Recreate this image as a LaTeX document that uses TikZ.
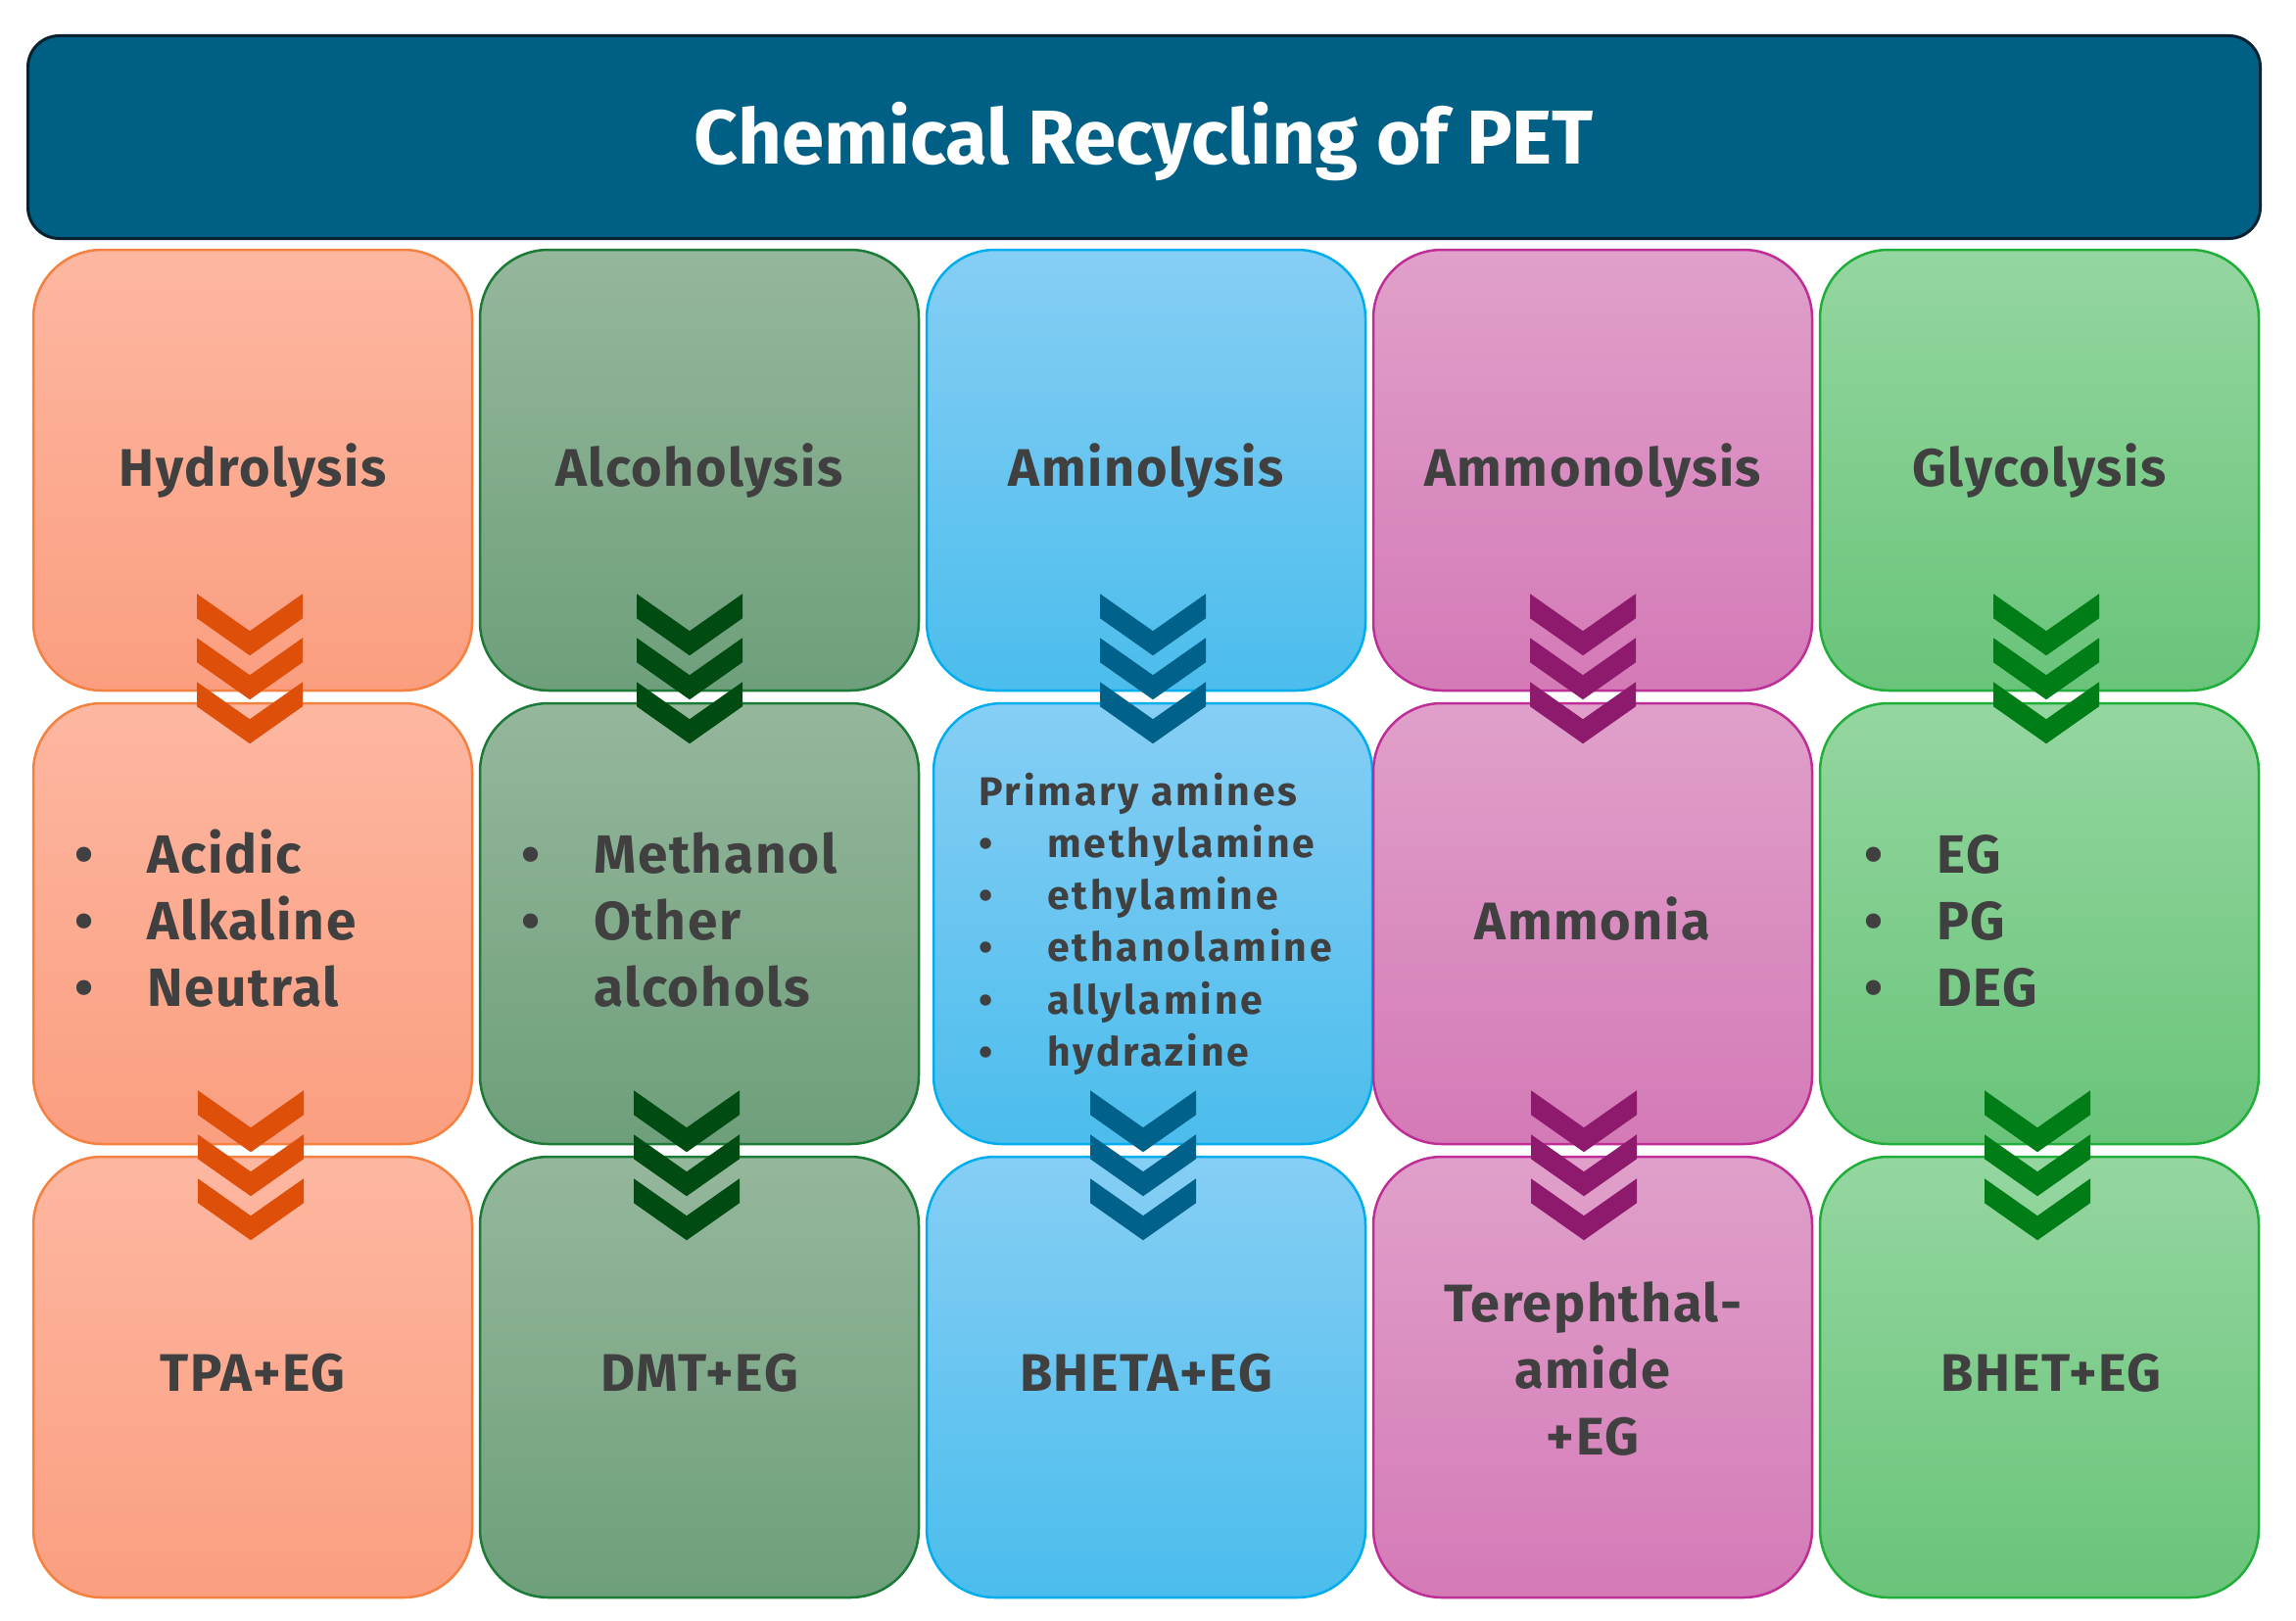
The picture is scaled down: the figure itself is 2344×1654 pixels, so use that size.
\documentclass[tikz,border=0pt]{standalone}
\usepackage{fontspec}
\setmainfont{Fira Sans}
\usetikzlibrary{calc,positioning}

\definecolor{titlefill}{HTML}{005F84}
\definecolor{titleline}{HTML}{0A2230}
\definecolor{txtgrey}{HTML}{404040}
\definecolor{ortop}{HTML}{FDB7A1}
\definecolor{orbot}{HTML}{FB9E80}
\definecolor{orline}{HTML}{F4813F}
\definecolor{orchev}{HTML}{DE500A}
\definecolor{sgtop}{HTML}{95B79C}
\definecolor{sgbot}{HTML}{6E9F7B}
\definecolor{sgline}{HTML}{1B7A35}
\definecolor{sgchev}{HTML}{004B12}
\definecolor{bltop}{HTML}{86CEF5}
\definecolor{blbot}{HTML}{4BBDEC}
\definecolor{blline}{HTML}{00AEEF}
\definecolor{blchev}{HTML}{00628A}
\definecolor{pktop}{HTML}{E0A0CA}
\definecolor{pkbot}{HTML}{D47AB7}
\definecolor{pkline}{HTML}{BF2E97}
\definecolor{pkchev}{HTML}{8E1A6E}
\definecolor{grtop}{HTML}{95D6A0}
\definecolor{grbot}{HTML}{69C47A}
\definecolor{grline}{HTML}{1FAE3A}
\definecolor{grchev}{HTML}{007D16}

\newcommand\itm[2][74pt]{\makebox[#1][l]{\textbullet}#2}

\tikzset{
  titlebox/.style={draw=titleline, fill=titlefill, line width=3pt, rounded corners=32pt,
    minimum width=2279pt, minimum height=207pt, text=white, text height=54pt, text depth=0pt,
    font=\fontsize{78}{90}\selectfont\bfseries},
  box/.style={draw=#1line, top color=#1top, bottom color=#1bot, line width=2.5pt,
    rounded corners=70pt, minimum width=448pt, minimum height=450pt, inner sep=0pt,
    text=txtgrey, font=\fontsize{54}{68}\selectfont\bfseries\addfontfeatures{LetterSpace=3}},
  lbl/.style={text depth=10pt},
  listtext/.style={inner sep=0pt, anchor=base west, text=txtgrey,
    font=\fontsize{55}{68}\selectfont\bfseries\addfontfeatures{LetterSpace=3}},
  pics/chevs/.style={code={
    \foreach \k in {0,45,90}
      \fill[#1] (-54,\k) -- (0,\k+38) -- (54,\k) -- (54,\k+25) -- (0,\k+63) -- (-54,\k+25) -- cycle;
  }}
}

\begin{document}
\begin{tikzpicture}[x=1pt,y=-1pt]
    \useasboundingbox (0,0) rectangle (2344,1654);
    \node[titlebox] (title) at (1168,140) {Chemical Recycling of PET};

    % processes
    \node[box=or, lbl] (hydro) at (258,480) {Hydrolysis};
    \node[box=sg, lbl] (alco) at (714,480) {Alcoholysis};
    \node[box=bl, lbl] (amino) at (1170,480) {Aminolysis};
    \node[box=pk, lbl] (ammono) at (1626,480) {Ammonolysis};
    \node[box=gr, lbl] (glyco) at (2082,480) {Glycolysis};

    % agents
    \node[box=or] (acid) at (258,943) {};
    \node[box=sg] (meth) at (714,943) {};
    \node[box=bl] (amine) at (1177,943) {};
    \node[box=pk, lbl] (ammonia) at (1626,943) {Ammonia};
    \node[box=gr] (glycol) at (2082,943) {};

    \node[listtext] (acidlist) at (76,891) {\begin{tabular}[t]{@{}l@{}}
        \itm{Acidic}\\ \itm{Alkaline}\\ \itm{Neutral}\end{tabular}};
    \node[listtext] (methlist) at (532,891) {\begin{tabular}[t]{@{}l@{}}
        \itm{Methanol}\\ \itm{Other}\\ \hspace*{74pt}alcohols\end{tabular}};
    \node[listtext, font=\fontsize{41}{53.3}\selectfont\bfseries\addfontfeatures{LetterSpace=7}] (aminelist) at (999,822) {\begin{tabular}[t]{@{}l@{}}
        Primary amines\\ \itm[70pt]{methylamine}\\ \itm[70pt]{ethylamine}\\
        \itm[70pt]{ethanolamine}\\ \itm[70pt]{allylamine}\\ \itm[70pt]{hydrazine}\end{tabular}};
    \node[listtext] (glycollist) at (1903,891) {\begin{tabular}[t]{@{}l@{}}
        \itm{EG}\\ \itm{PG}\\ \itm{DEG}\end{tabular}};

    % products
    \node[box=or, lbl] (tpa) at (258,1406) {TPA+EG};
    \node[box=sg, lbl] (dmt) at (714,1406) {DMT+EG};
    \node[box=bl, lbl] (bheta) at (1170,1406) {BHETA+EG};
    \node[box=pk, align=center] (amide) at (1626,1406) {Terephthal-\\amide\\+EG\\[-50pt]};
    \node[box=gr, lbl] (bhet) at (2082,1406) {\hspace*{24pt}BHET+EG};

    % chevrons
    \pic at ($(hydro.south)+(-3,-100)$) {chevs=orchev};
    \pic at ($(alco.south)+(-10,-100)$) {chevs=sgchev};
    \pic at ($(amino.south)+(7,-100)$) {chevs=blchev};
    \pic at ($(ammono.south)+(-10,-100)$) {chevs=pkchev};
    \pic at ($(glyco.south)+(7,-100)$) {chevs=grchev};

    \pic at ($(acid.south)+(-2,-56)$) {chevs=orchev};
    \pic at ($(meth.south)+(-13,-56)$) {chevs=sgchev};
    \pic at ($(amine.south)+(-10,-56)$) {chevs=blchev};
    \pic at ($(ammonia.south)+(-9,-56)$) {chevs=pkchev};
    \pic at ($(glycol.south)+(-2,-56)$) {chevs=grchev};
\end{tikzpicture}
\end{document}
